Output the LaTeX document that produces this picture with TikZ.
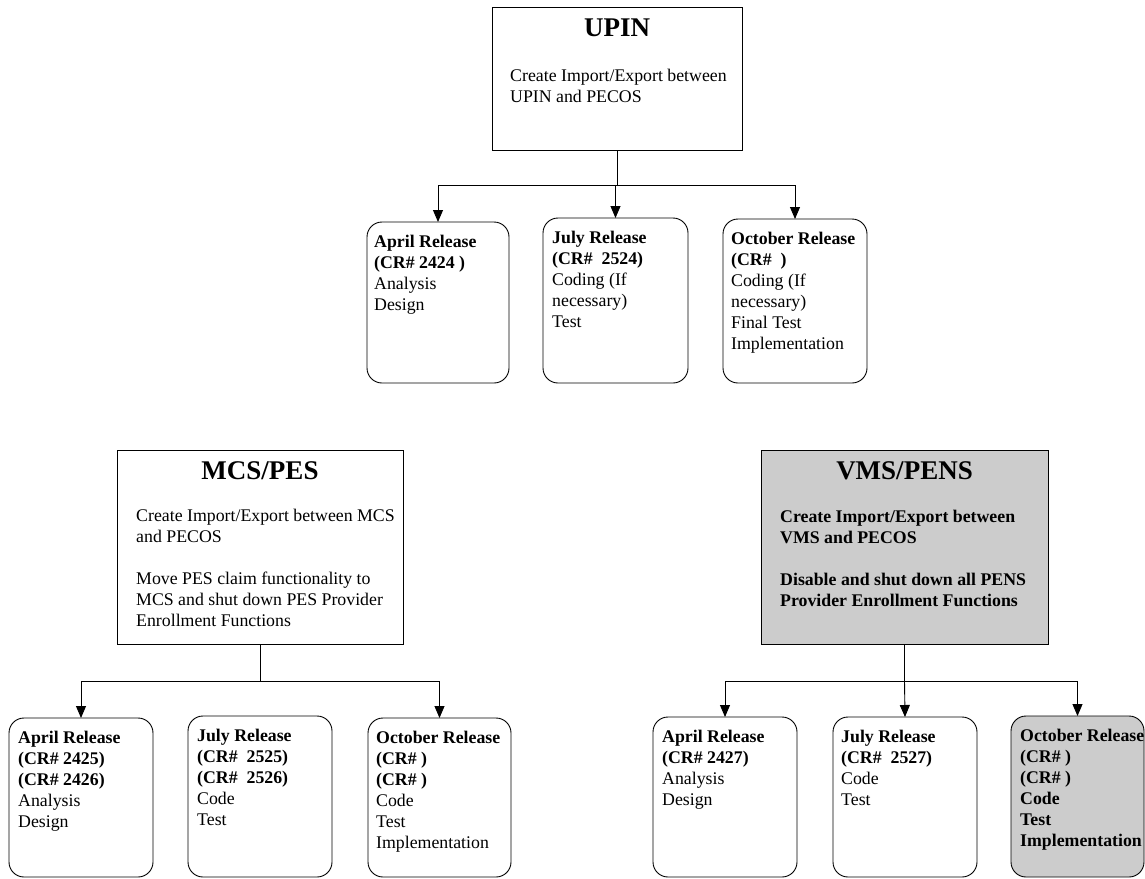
\documentclass[tikz,border=0pt]{standalone}
\usepackage{fontspec}
\setmainfont{Liberation Serif}
\usetikzlibrary{arrows.meta}
\begin{document}
\begin{tikzpicture}[x=1pt,y=-1pt,
  bigbox/.style={draw=black, line width=0.9pt, inner sep=0pt, outer sep=0pt, anchor=north west},
  relbox/.style={draw=black, line width=0.9pt, rounded corners=15pt, inner sep=0pt, outer sep=0pt, anchor=north west},
  grayfill/.style={fill=gray!40},
  body/.style={font=\fontsize{17.8}{21}\selectfont, align=left, anchor=north west, inner sep=0pt},
  boldbody/.style={body, font=\fontsize{17.8}{21}\selectfont\bfseries},
  titletext/.style={font=\fontsize{27}{32}\selectfont\bfseries, anchor=base, inner sep=0pt},
  conn/.style={line width=0.9pt},
  arr/.style={conn, -{Triangle[length=12pt,width=10pt]}}]
\useasboundingbox (0,0) rectangle (1145,878);

% ---------- UPIN ----------
\node[bigbox, minimum width=250, minimum height=143] (upin) at (492,7) {};
\node[titletext] (upint) at (617,36) {UPIN};
\node[body] (upinb) at (510,68.7) {Create Import/Export between\\UPIN and PECOS};

\node[relbox, minimum width=142, minimum height=161] (ua) at (367,222) {};
\node[relbox, minimum width=145, minimum height=165] (uj) at (543,218) {};
\node[relbox, minimum width=144, minimum height=164] (uo) at (723,219) {};
\node[body] (uat) at ([shift={(7,13)}]ua.north west) {\textbf{April Release}\\\textbf{(CR\# 2424 )}\\Analysis\\Design};
\node[body] (ujt) at ([shift={(9,13)}]uj.north west) {\textbf{July Release}\\\textbf{(CR\#\ \ 2524)}\\Coding (If\\necessary)\\Test};
\node[body] (uot) at ([shift={(8,13)}]uo.north west) {\textbf{October Release}\\\textbf{(CR\#\ \ )}\\Coding (If\\necessary)\\Final Test\\Implementation};

\coordinate (ubus) at (617,185);
\draw[conn] (upin.south) -- (ubus);
\draw[arr] (ubus) -| (ua.north);
\draw[arr] (ubus) -| (uj.north);
\draw[arr] (ubus) -| (uo.north);

% ---------- MCS/PES ----------
\node[bigbox, minimum width=286, minimum height=194] (mcs) at (117,450) {};
\node[titletext] (mcst) at (260,479) {MCS/PES};
\node[body] (mcsb) at (136,508.7) {Create Import/Export between MCS\\and PECOS\\[21pt]Move PES claim functionality to\\MCS and shut down PES Provider\\Enrollment Functions};

\node[relbox, minimum width=144, minimum height=159] (ma) at (9,718) {};
\node[relbox, minimum width=144, minimum height=161] (mj) at (188,716) {};
\node[relbox, minimum width=143, minimum height=159] (mo) at (368,718) {};
\node[body] (mat) at ([shift={(9,13)}]ma.north west) {\textbf{April Release}\\\textbf{(CR\# 2425)}\\\textbf{(CR\# 2426)}\\Analysis\\Design};
\node[body] (mjt) at ([shift={(9,13)}]mj.north west) {\textbf{July Release}\\\textbf{(CR\#\ \ 2525)}\\\textbf{(CR\#\ \ 2526)}\\Code\\Test};
\node[body] (mot) at ([shift={(8,13)}]mo.north west) {\textbf{October Release}\\\textbf{(CR\# )}\\\textbf{(CR\# )}\\Code\\Test\\Implementation};

\coordinate (mbus) at (260,681);
\draw[conn] (mcs.south) -- (mbus);
\draw[conn] (ma.north |- mbus) -- (mo.north |- mbus);
\draw[arr] (mbus) -| (ma.north);
\draw[arr] (mbus) -| (mo.north);

% ---------- VMS/PENS ----------
\node[bigbox, grayfill, minimum width=287, minimum height=194] (vms) at (761,450) {};
\node[titletext] (vmst) at (904.5,479) {VMS/PENS};
\node[boldbody] (vmsb) at (780,509.7) {Create Import/Export between\\VMS and PECOS\\[21pt]Disable and shut down all PENS\\Provider Enrollment Functions};

\node[relbox, minimum width=144, minimum height=160] (va) at (653,717) {};
\node[relbox, minimum width=144, minimum height=160] (vj) at (833,717) {};
\node[relbox, grayfill, minimum width=133, minimum height=161] (vo) at (1011,716) {};
\node[body] (vat) at ([shift={(9,13)}]va.north west) {\textbf{April Release}\\\textbf{(CR\# 2427)}\\Analysis\\Design};
\node[body] (vjt) at ([shift={(8,13)}]vj.north west) {\textbf{July Release}\\\textbf{(CR\#\ \ 2527)}\\Code\\Test};
\node[boldbody] (vot) at ([shift={(9,13)}]vo.north west) {October Release\\(CR\# )\\(CR\# )\\Code\\Test\\Implementation};

\coordinate (vbus) at (904.5,681);
\draw[conn] (vms.south) -- (vbus);
\draw[arr] (vbus) -| (va.north);
\draw[arr] (vbus) -- (vj.north);
\draw[arr] (vbus) -| (vo.north);
\end{tikzpicture}
\end{document}
